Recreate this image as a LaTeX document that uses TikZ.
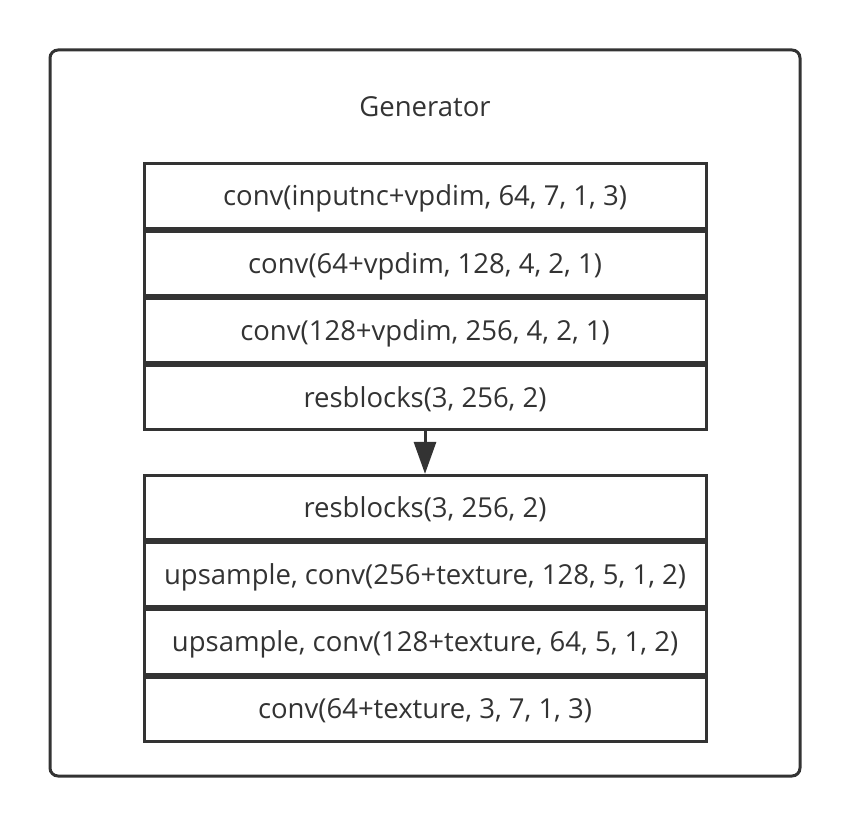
\documentclass[tikz,border=0pt]{standalone}
\usepackage{fontspec}
\setmainfont{Open Sans}
\usetikzlibrary{positioning,arrows.meta}
\definecolor{lineclr}{HTML}{333333}
\begin{document}
\begin{tikzpicture}[x=1pt,y=-1pt,
   layer/.style={draw=lineclr,line width=3pt,minimum width=562pt,minimum height=64.25pt,
     inner sep=0pt,text depth=1pt,text=lineclr,font=\fontsize{27.5}{32}\selectfont},
   flow/.style={draw=lineclr,line width=3pt,-{Triangle[length=32pt,width=22pt]}}]
   \useasboundingbox (0,0) rectangle (848,826);
   % outer frame
   \draw [lineclr,line width=3pt,rounded corners=8pt] (50,50) rectangle (800,776);
   \node [text=lineclr,font=\fontsize{27.5}{32}\selectfont] (title) at (425,107) {Generator};
   % encoder part
   \node [layer] (enc1) at (425,196) {conv(inputnc+vpdim, 64, 7, 1, 3)};
   \node [layer,below=0pt of enc1] (enc2) {conv(64+vpdim, 128, 4, 2, 1)};
   \node [layer,below=0pt of enc2] (enc3) {conv(128+vpdim, 256, 4, 2, 1)};
   \node [layer,below=0pt of enc3] (enc4) {resblocks(3, 256, 2)};
   % decoder part
   \node [layer] (dec1) at (425,507.5) {resblocks(3, 256, 2)};
   \node [layer,below=0pt of dec1] (dec2) {upsample, conv(256+texture, 128, 5, 1, 2)};
   \node [layer,below=0pt of dec2] (dec3) {upsample, conv(128+texture, 64, 5, 1, 2)};
   \node [layer,below=0pt of dec3] (dec4) {conv(64+texture, 3, 7, 1, 3)};
   \draw [flow] (enc4.south) -- (dec1.north);
\end{tikzpicture}
\end{document}
